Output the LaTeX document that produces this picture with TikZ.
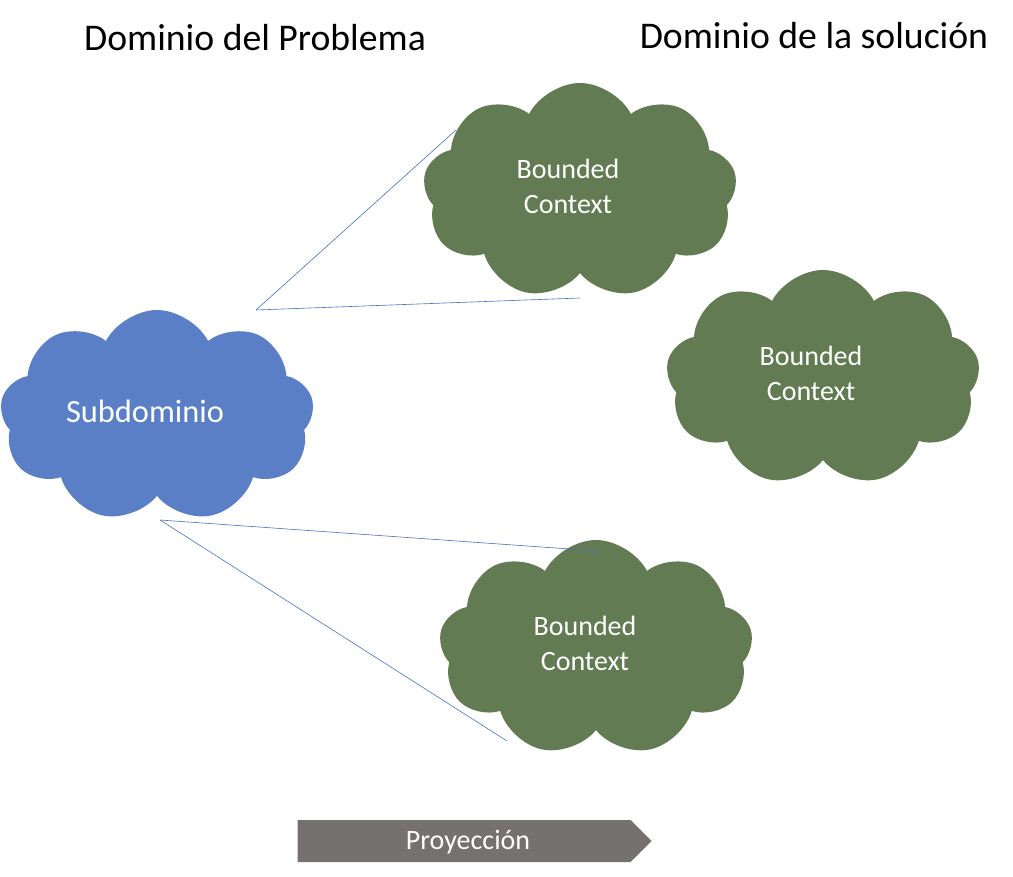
\documentclass[tikz,border=0pt]{standalone}
\usepackage{fontspec}
\setmainfont{Carlito}
\usetikzlibrary{shapes.symbols}
\definecolor{subblue}{HTML}{5B7FC7}
\definecolor{bcgreen}{HTML}{627B52}
\definecolor{lineblue}{HTML}{4472C4}
\definecolor{arrgray}{HTML}{767171}
\tikzset{
  bccloud/.style={cloud, cloud puffs=9, cloud puff arc=125, cloud ignores aspect, fill=bcgreen,
    minimum width=314pt, minimum height=216pt, inner sep=0pt},
  bctext/.style={text=white, align=center, font=\fontsize{28}{35}\selectfont},
  link/.style={lineblue, line width=0.6pt}
}
\begin{document}
\begin{tikzpicture}[x=1pt,y=-1pt]
\useasboundingbox (0,0) rectangle (1013,877);
\node[font=\fontsize{37.7}{42}\selectfont] (probl) at (255,38) {Dominio del Problema};
\node[font=\fontsize{37.7}{42}\selectfont] (soluc) at (814,36) {Dominio de la solución};
\node[cloud, cloud puffs=9, cloud puff arc=125, cloud ignores aspect, fill=subblue,
  minimum width=314pt, minimum height=212pt, inner sep=0pt] (sub) at (157,416) {};
\node[text=white, font=\fontsize{32.4}{38}\selectfont] (subtxt) at (145,411) {Subdominio};
\node[bccloud] (bc1) at (580,191) {};
\node[bccloud] (bc2) at (823,378) {};
\node[bccloud] (bc3) at (596,648) {};
\node[bctext] (bc1txt) at (568,186) {Bounded\\Context};
\node[bctext] (bc2txt) at (811,373) {Bounded\\Context};
\node[bctext] (bc3txt) at (585,643) {Bounded\\Context};
% puntos de las lineas
\coordinate (s1) at (256,310);
\coordinate (s2) at (160,520);
\coordinate (a1) at (456,130);
\coordinate (a2) at (580,298);
\coordinate (b1) at (598,551);
\coordinate (b2) at (507,741);
\draw[link] (s1) -- (a1);
\draw[link] (s1) -- (a2);
\draw[link] (s2) -- (b1);
\draw[link] (s2) -- (b2);
\node[signal, signal to=east, signal pointer angle=90, fill=arrgray,
  minimum width=354pt, minimum height=42pt, inner sep=0pt] (proy) at (464,841) {};
\node[text=white, font=\fontsize{28}{32}\selectfont] (proytxt) at (468,842) {Proyección};
\end{tikzpicture}
\end{document}
